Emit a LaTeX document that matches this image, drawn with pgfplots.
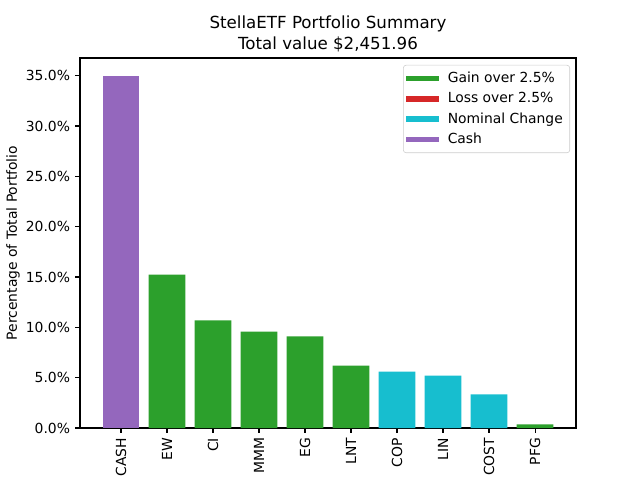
\documentclass[border=0pt]{standalone}
\usepackage{fontspec}
\setmainfont{DejaVu Sans}
\usepackage{pgfplots}
\pgfplotsset{compat=1.18}
\definecolor{tabgreen}{HTML}{2CA02C}
\definecolor{tabred}{HTML}{D62728}
\definecolor{tabcyan}{HTML}{17BECF}
\definecolor{tabpurple}{HTML}{9467BD}
\begin{document}
\begin{tikzpicture}
\useasboundingbox (-57.6pt,-37.44pt) rectangle (403.2pt,308.16pt);
\begin{axis}[
  scale only axis,
  width=357.12pt, height=266.4pt,
  xmin=-0.89, xmax=9.89, ymin=0, ymax=36.75,
  axis line style={line width=0.8pt},
  tick style={line width=0.8pt, black},
  tick align=outside,
  major tick length=3.5pt,
  xtick={0,...,9},
  xticklabels={CASH,EW,CI,MMM,EG,LNT,COP,LIN,COST,PFG},
  xticklabel style={rotate=90, anchor=east, inner sep=0pt, xshift=-3.5pt, font=\fontsize{10}{12}\selectfont},
  ytick={0,5,10,15,20,25,30,35},
  yticklabels={0.0\%,5.0\%,10.0\%,15.0\%,20.0\%,25.0\%,30.0\%,35.0\%},
  yticklabel style={inner sep=0pt, xshift=-3.5pt, font=\fontsize{10}{12}\selectfont},
  tick label style={/pgf/number format/assume math mode=true},
  xtick pos=bottom, ytick pos=left,
  ylabel={Percentage of Total Portfolio},
  ylabel style={at={(axis description cs:0,0.5)}, anchor=center, yshift=48.2pt, font=\fontsize{10}{12}\selectfont},
  title={StellaETF Portfolio Summary\\Total value \$2,451.96},
  title style={align=center, font=\fontsize{12}{15.8}\selectfont, at={(axis description cs:0.5,1)}, anchor=south, yshift=-5.5pt},
  ybar, bar width=0.8, bar shift=0pt,
  legend style={at={(axis description cs:1,1)}, anchor=north east, xshift=-4.3pt, yshift=-5pt,
    draw=black!20, rounded corners=2pt, font=\fontsize{10}{12}\selectfont,
    cells={anchor=west}, row sep=1.6pt, column sep=2pt, inner xsep=0pt, inner ysep=3pt},
  legend cell align=left,
]
\addplot[draw=none, fill=tabpurple, forget plot] coordinates {(0,35.0)};
\addplot[draw=none, fill=tabgreen, forget plot] coordinates {(1,15.24) (2,10.68) (3,9.58) (4,9.09) (5,6.20) (9,0.35)};
\addplot[draw=none, fill=tabcyan, forget plot] coordinates {(6,5.61) (7,5.21) (8,3.33)};
\addlegendimage{legend image code/.code={\draw[tabgreen, line width=4pt] (0pt,0pt) -- (24pt,0pt);}}
\addlegendentry{Gain over 2.5\%\hspace*{3pt}}
\addlegendimage{legend image code/.code={\draw[tabred, line width=4pt] (0pt,0pt) -- (24pt,0pt);}}
\addlegendentry{Loss over 2.5\%\hspace*{3pt}}
\addlegendimage{legend image code/.code={\draw[tabcyan, line width=4pt] (0pt,0pt) -- (24pt,0pt);}}
\addlegendentry{Nominal Change\hspace*{3pt}}
\addlegendimage{legend image code/.code={\draw[tabpurple, line width=4pt] (0pt,0pt) -- (24pt,0pt);}}
\addlegendentry{Cash\hspace*{3pt}}
\end{axis}
\end{tikzpicture}
\end{document}
